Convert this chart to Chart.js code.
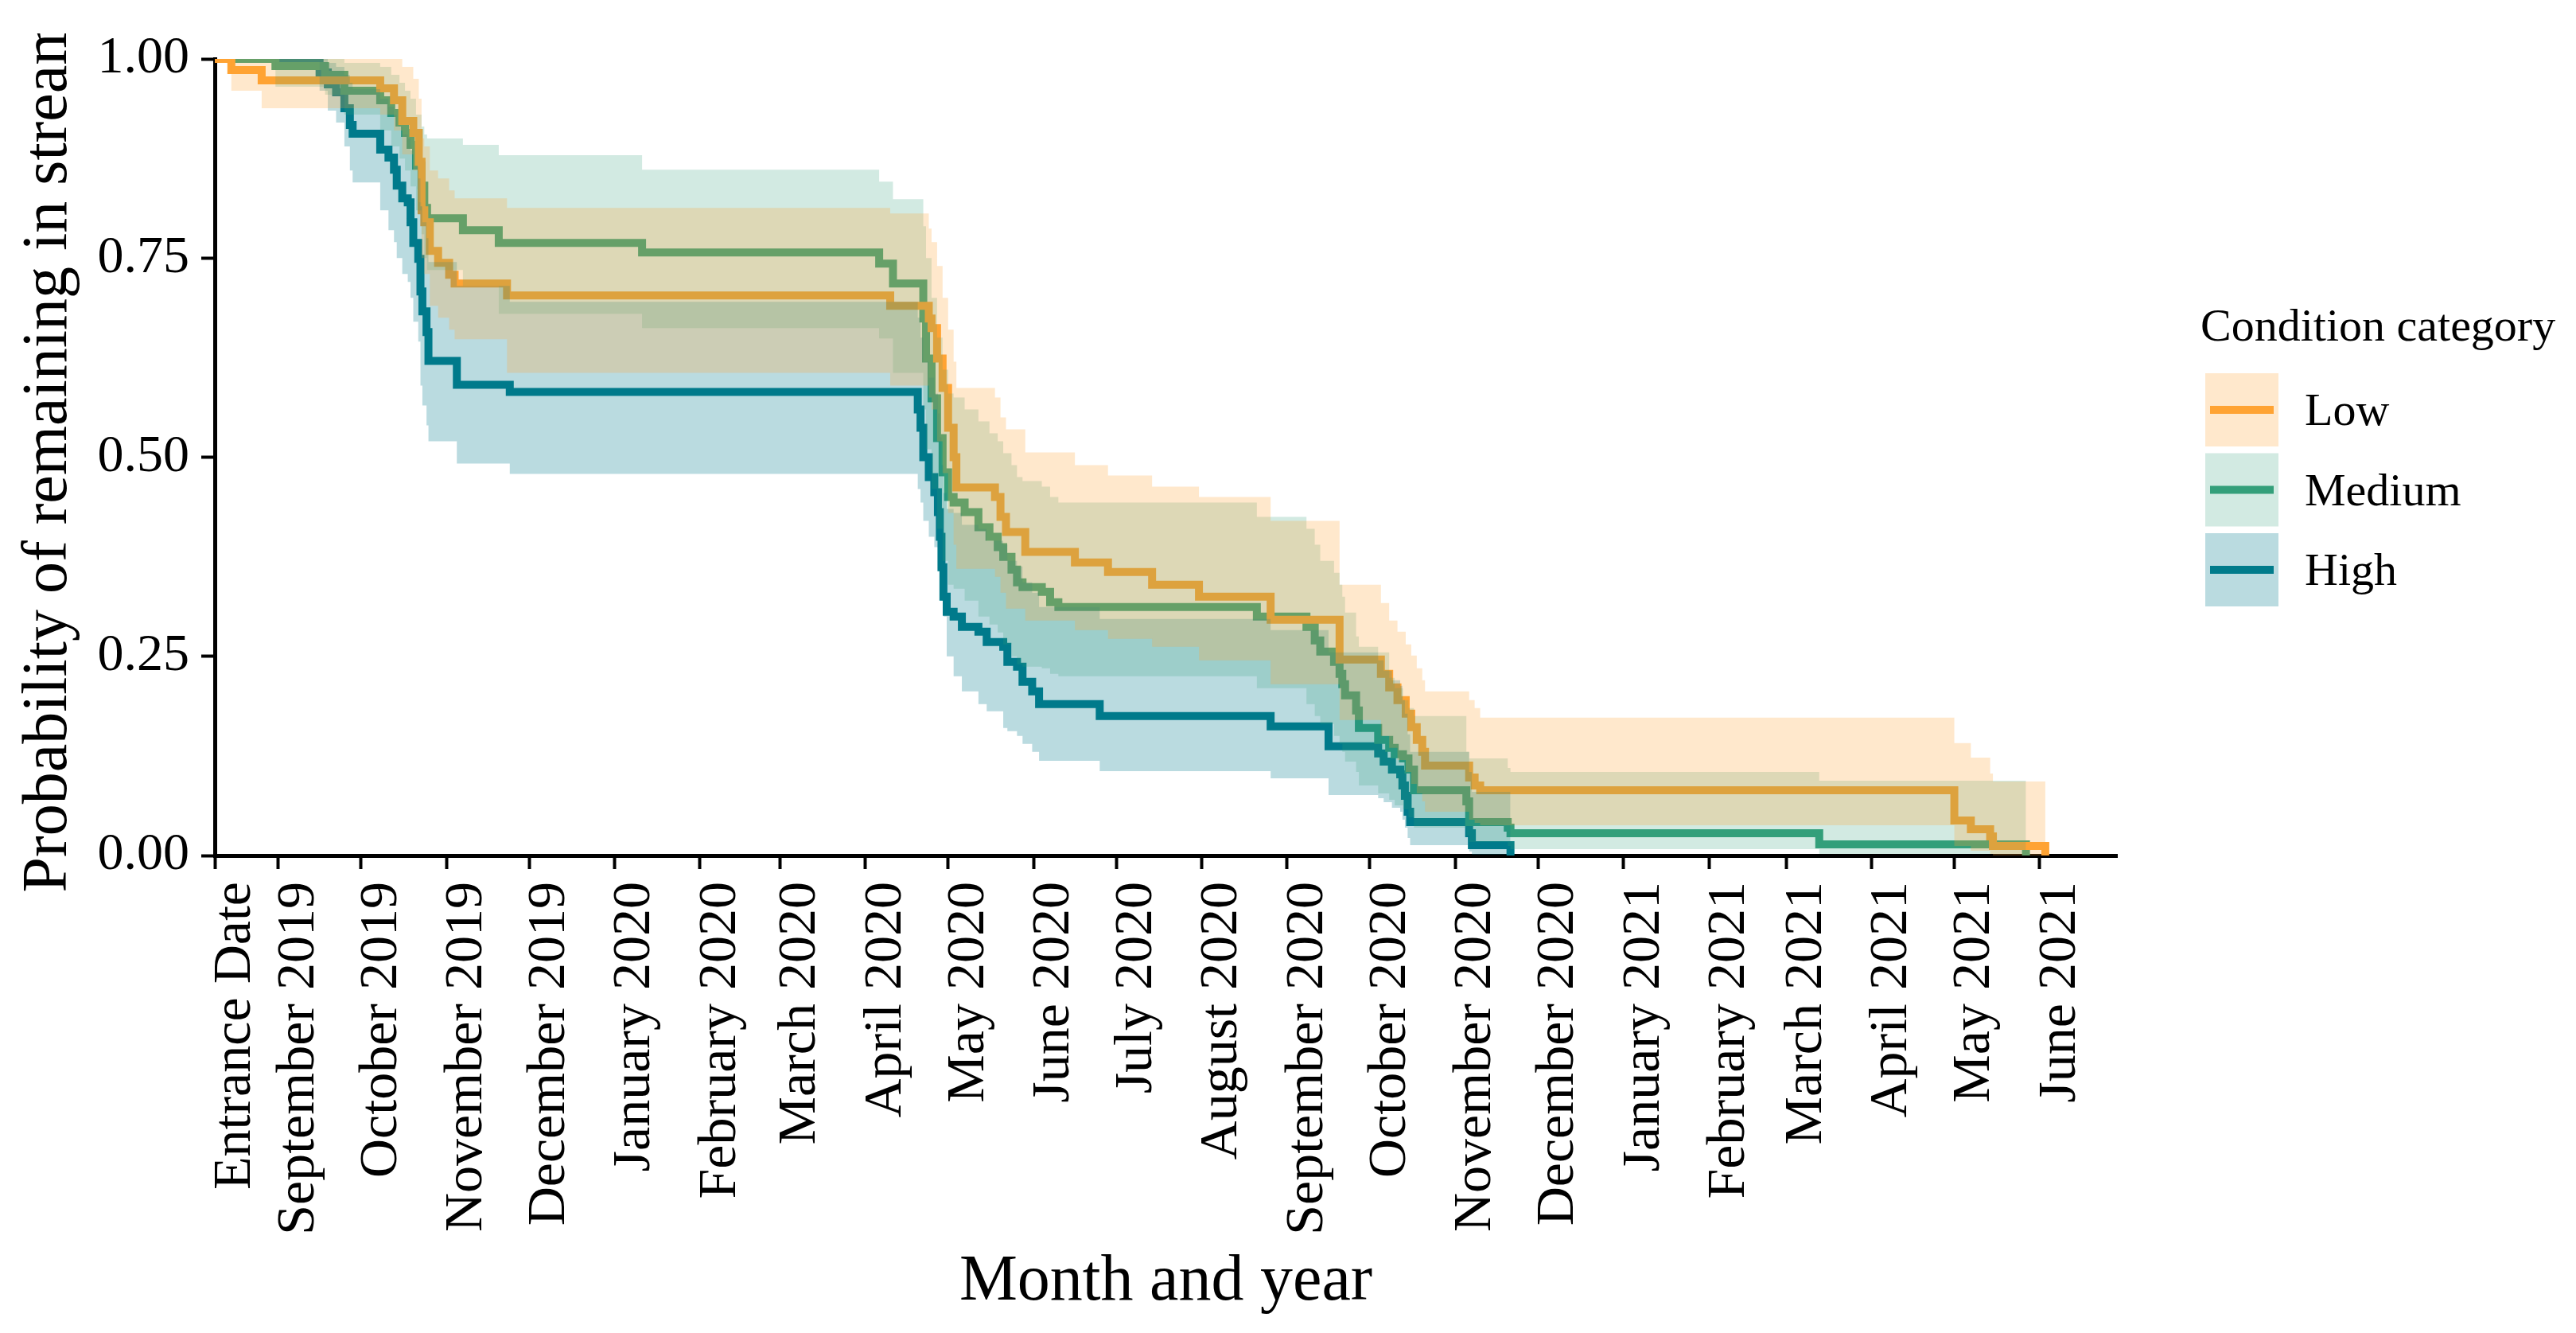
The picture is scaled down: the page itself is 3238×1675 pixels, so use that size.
<!DOCTYPE html>
<html lang="en">
<head>
<meta charset="UTF-8">
<title>Probability of remaining in stream</title>
<script src="https://cdn.jsdelivr.net/npm/chart.js"></script>
<style>
  html, body { margin: 0; padding: 0; background: #fff; }
  #wrap { width: 3238px; height: 1675px; position: relative; }
</style>
</head>
<body>
<div id="wrap"><canvas id="kmChart"></canvas></div>
<script>
// x is days since the entrance date (9 Aug 2019)
const xMax = 690;
const tickDays = [0, 23, 53, 84, 114, 145, 176, 205, 236, 266, 297, 327, 358, 389, 419, 450, 480, 511, 542, 570, 601, 631, 662];
const tickLabels = ['Entrance Date', 'September 2019', 'October 2019', 'November 2019', 'December 2019',
  'January 2020', 'February 2020', 'March 2020', 'April 2020', 'May 2020', 'June 2020', 'July 2020',
  'August 2020', 'September 2020', 'October 2020', 'November 2020', 'December 2020', 'January 2021',
  'February 2021', 'March 2021', 'April 2021', 'May 2021', 'June 2021'];
const yTicks = [0, 0.25, 0.5, 0.75, 1];

// Low condition
const lowDays  = [0, 6, 17, 60, 65, 68, 72, 74, 75, 76, 78, 81, 85, 87, 106, 245, 259, 260, 262, 264, 266, 268, 269, 283, 285, 287, 294, 312, 324, 340, 357, 383, 408, 423, 426, 429, 432, 434, 436, 438, 439, 455, 457, 459, 631, 637, 644, 645, 664];
const lowSurv  = [1, 0.986, 0.973, 0.963, 0.948, 0.922, 0.907, 0.871, 0.81, 0.795, 0.759, 0.744, 0.729, 0.718, 0.703, 0.69, 0.674, 0.662, 0.624, 0.587, 0.537, 0.5, 0.462, 0.45, 0.425, 0.406, 0.381, 0.368, 0.356, 0.34, 0.325, 0.296, 0.246, 0.228, 0.211, 0.195, 0.178, 0.161, 0.145, 0.13, 0.113, 0.098, 0.088, 0.082, 0.044, 0.033, 0.024, 0.012, 0];
const lowUpper = [1, 1, 1, 1, 1, 0.99, 0.975, 0.95, 0.9, 0.89, 0.86, 0.85, 0.835, 0.825, 0.813, 0.806, 0.787, 0.77, 0.74, 0.7, 0.66, 0.62, 0.587, 0.575, 0.55, 0.535, 0.506, 0.49, 0.477, 0.463, 0.45, 0.42, 0.34, 0.317, 0.295, 0.281, 0.265, 0.251, 0.235, 0.22, 0.206, 0.195, 0.185, 0.173, 0.141, 0.123, 0.103, 0.093, 0];
const lowLower = [1, 0.96, 0.938, 0.93, 0.91, 0.88, 0.86, 0.82, 0.75, 0.73, 0.69, 0.675, 0.66, 0.648, 0.606, 0.59, 0.575, 0.56, 0.52, 0.48, 0.43, 0.39, 0.36, 0.35, 0.33, 0.31, 0.295, 0.283, 0.272, 0.262, 0.245, 0.215, 0.17, 0.15, 0.135, 0.12, 0.105, 0.09, 0.078, 0.068, 0.055, 0.045, 0.041, 0.038, 0.012, 0.006, 0.002, 0, 0];

// Medium condition
const medDays  = [0, 22, 40, 47, 60, 64, 67, 69, 71, 73, 75, 76, 77, 90, 103, 155, 241, 246, 257, 258, 260, 262, 264, 266, 268, 272, 277, 281, 284, 286, 289, 291, 293, 300, 303, 306, 378, 396, 399, 401, 406, 408, 409, 410, 414, 415, 422, 426, 428, 431, 433, 435, 454, 455, 469, 470, 582, 657];
const medSurv  = [1, 0.991, 0.98, 0.96, 0.948, 0.932, 0.92, 0.907, 0.892, 0.866, 0.841, 0.813, 0.8, 0.785, 0.769, 0.757, 0.743, 0.718, 0.674, 0.624, 0.574, 0.524, 0.481, 0.45, 0.443, 0.431, 0.412, 0.4, 0.387, 0.375, 0.359, 0.343, 0.337, 0.331, 0.318, 0.312, 0.3, 0.287, 0.27, 0.256, 0.243, 0.228, 0.215, 0.201, 0.182, 0.16, 0.145, 0.135, 0.127, 0.122, 0.108, 0.082, 0.068, 0.042, 0.035, 0.028, 0.014, 0];
const medUpper = [1, 1, 1, 0.995, 0.99, 0.98, 0.97, 0.96, 0.95, 0.93, 0.915, 0.905, 0.9, 0.892, 0.879, 0.861, 0.846, 0.824, 0.79, 0.75, 0.7, 0.65, 0.61, 0.58, 0.575, 0.56, 0.545, 0.53, 0.52, 0.505, 0.49, 0.475, 0.47, 0.463, 0.45, 0.443, 0.425, 0.41, 0.39, 0.37, 0.355, 0.34, 0.325, 0.305, 0.275, 0.262, 0.255, 0.223, 0.21, 0.195, 0.185, 0.175, 0.13, 0.122, 0.11, 0.105, 0.094, 0];
const medLower = [1, 0.965, 0.955, 0.93, 0.91, 0.89, 0.875, 0.86, 0.84, 0.81, 0.78, 0.75, 0.735, 0.715, 0.68, 0.662, 0.649, 0.606, 0.56, 0.51, 0.46, 0.41, 0.37, 0.34, 0.335, 0.32, 0.3, 0.29, 0.28, 0.265, 0.25, 0.24, 0.237, 0.235, 0.228, 0.225, 0.21, 0.19, 0.175, 0.165, 0.15, 0.14, 0.13, 0.118, 0.105, 0.088, 0.078, 0.07, 0.063, 0.058, 0.048, 0.035, 0.025, 0.017, 0.012, 0.008, 0.002, 0];

// High condition
const highDays  = [0, 38, 41, 44, 47, 49, 50, 60, 63, 65, 66, 68, 70, 71, 72, 73.8, 74.6, 75.3, 76.8, 77.5, 87.8, 107, 255, 256, 257, 259, 261, 262.3, 263, 263.6, 264.3, 265.5, 268, 271, 277, 280, 286, 287.5, 291, 293, 296.5, 299, 321, 383, 404, 422, 424, 427, 430, 430.8, 431.7, 432.7, 433.6, 455, 456, 470];
const highSurv  = [1, 0.983, 0.968, 0.958, 0.938, 0.917, 0.906, 0.886, 0.876, 0.861, 0.841, 0.825, 0.82, 0.795, 0.769, 0.749, 0.708, 0.683, 0.657, 0.621, 0.591, 0.582, 0.56, 0.537, 0.5, 0.475, 0.456, 0.431, 0.4, 0.362, 0.325, 0.306, 0.3, 0.287, 0.281, 0.268, 0.262, 0.243, 0.237, 0.218, 0.206, 0.19, 0.175, 0.162, 0.137, 0.128, 0.118, 0.108, 0.102, 0.088, 0.075, 0.055, 0.042, 0.028, 0.013, 0];
const highUpper = [1, 1, 0.995, 0.99, 0.98, 0.97, 0.962, 0.95, 0.94, 0.93, 0.915, 0.905, 0.9, 0.885, 0.865, 0.85, 0.815, 0.795, 0.775, 0.745, 0.715, 0.695, 0.675, 0.65, 0.62, 0.6, 0.58, 0.555, 0.525, 0.49, 0.455, 0.435, 0.43, 0.415, 0.41, 0.395, 0.39, 0.37, 0.363, 0.343, 0.33, 0.312, 0.297, 0.283, 0.255, 0.245, 0.232, 0.22, 0.213, 0.195, 0.178, 0.152, 0.13, 0.105, 0.08, 0];
const highLower = [1, 0.96, 0.935, 0.92, 0.89, 0.86, 0.845, 0.81, 0.785, 0.77, 0.75, 0.73, 0.72, 0.7, 0.67, 0.645, 0.59, 0.565, 0.54, 0.52, 0.492, 0.479, 0.46, 0.443, 0.42, 0.4, 0.387, 0.36, 0.35, 0.32, 0.3, 0.25, 0.225, 0.206, 0.19, 0.181, 0.16, 0.156, 0.15, 0.14, 0.13, 0.119, 0.106, 0.097, 0.076, 0.072, 0.067, 0.06, 0.055, 0.045, 0.035, 0.022, 0.013, 0.005, 0.001, 0];

const groups = [
  { name: 'Low',    color: '#FFA333', fill: 'rgba(255,163,51,0.25)', days: lowDays,  surv: lowSurv,  upper: lowUpper,  lower: lowLower },
  { name: 'Medium', color: '#349F7A', fill: 'rgba(52,159,122,0.22)', days: medDays,  surv: medSurv,  upper: medUpper,  lower: medLower },
  { name: 'High',   color: '#007B8B', fill: 'rgba(0,123,139,0.27)',  days: highDays, surv: highSurv, upper: highUpper, lower: highLower }
];

function toPoints(days, values) {
  return days.map((d, i) => ({ x: d, y: values[i] }));
}

const datasets = [];
groups.forEach(g => {
  datasets.push({
    label: g.name,
    data: toPoints(g.days, g.surv),
    borderColor: g.color,
    borderWidth: 10,
    stepped: true,
    pointRadius: 0,
    fill: false,
    order: 2
  });
  datasets.push({
    label: g.name + ' upper',
    data: toPoints(g.days, g.upper),
    borderColor: 'rgba(0,0,0,0)',
    borderWidth: 0,
    backgroundColor: g.fill,
    stepped: true,
    pointRadius: 0,
    fill: '+1',
    order: 1
  });
  datasets.push({
    label: g.name + ' lower',
    data: toPoints(g.days, g.lower),
    borderColor: 'rgba(0,0,0,0)',
    borderWidth: 0,
    stepped: true,
    pointRadius: 0,
    fill: false,
    order: 1
  });
});

const serif = '"Liberation Serif", "Times New Roman", serif';

// axis titles and the legend drawn in the style of the original figure
const extraText = {
  id: 'extraText',
  afterDraw(chart) {
    const ctx = chart.ctx;
    const area = chart.chartArea;
    ctx.save();
    ctx.fillStyle = '#000';
    ctx.textBaseline = 'alphabetic';

    ctx.font = '82px ' + serif;
    ctx.textAlign = 'center';
    ctx.fillText('Month and year', (area.left + area.right) / 2, 1633);

    // the y title runs off the top of the original figure
    ctx.save();
    ctx.beginPath();
    ctx.rect(0, 42, 200, 1675);
    ctx.clip();
    ctx.translate(83, (area.top + area.bottom) / 2 - 4);
    ctx.rotate(-Math.PI / 2);
    ctx.font = '80px ' + serif;
    ctx.fillText('Probability of remaining in stream', 0, 0);
    ctx.restore();

    const keyX = 2772, keyTop = 469, keySize = 92, keyStep = 100.5;
    ctx.font = '58px ' + serif;
    ctx.textAlign = 'left';
    ctx.fillText('Condition category', 2766, 428);
    groups.forEach((g, i) => {
      const y = keyTop + i * keyStep;
      ctx.fillStyle = g.fill;
      ctx.fillRect(keyX, y, keySize, keySize);
      ctx.strokeStyle = g.color;
      ctx.lineWidth = 10;
      ctx.beginPath();
      ctx.moveTo(keyX + 6, y + keySize / 2);
      ctx.lineTo(keyX + keySize - 6, y + keySize / 2);
      ctx.stroke();
      ctx.fillStyle = '#000';
      ctx.fillText(g.name, 2897, y + keySize / 2 + 19);
    });
    ctx.restore();
  }
};

Chart.defaults.font.family = serif;
Chart.defaults.color = '#000';

new Chart(document.getElementById('kmChart'), {
  type: 'line',
  data: { datasets: datasets },
  options: {
    responsive: true,
    maintainAspectRatio: false,
    devicePixelRatio: 1,
    animation: false,
    layout: { padding: { left: 0, top: 74, right: 577, bottom: 0 } },
    plugins: {
      legend: { display: false },
      tooltip: { enabled: false },
      filler: { drawTime: 'beforeDatasetDraw' }
    },
    scales: {
      x: {
        type: 'linear',
        min: 0,
        max: xMax,
        afterBuildTicks: s => { s.ticks = tickDays.map(v => ({ value: v })); },
        afterFit: s => { s.height = 600; },
        ticks: {
          autoSkip: false,
          minRotation: 90,
          maxRotation: 90,
          padding: 16,
          labelOffset: 26,
          color: '#000',
          font: { size: 68 },
          callback: (v, i) => tickLabels[i]
        },
        grid: { drawOnChartArea: false, drawTicks: true, tickLength: 17, tickWidth: 4, tickColor: '#000' },
        border: { display: true, color: '#000', width: 5 }
      },
      y: {
        type: 'linear',
        min: 0,
        max: 1,
        afterBuildTicks: s => { s.ticks = yTicks.map(v => ({ value: v })); },
        afterFit: s => { s.width = 270; },
        ticks: {
          padding: 15,
          color: '#000',
          font: { size: 66 },
          callback: v => v.toFixed(2)
        },
        grid: { drawOnChartArea: false, drawTicks: true, tickLength: 17, tickWidth: 4, tickColor: '#000' },
        border: { display: true, color: '#000', width: 5 }
      }
    }
  },
  plugins: [extraText]
});
</script>
</body>
</html>
